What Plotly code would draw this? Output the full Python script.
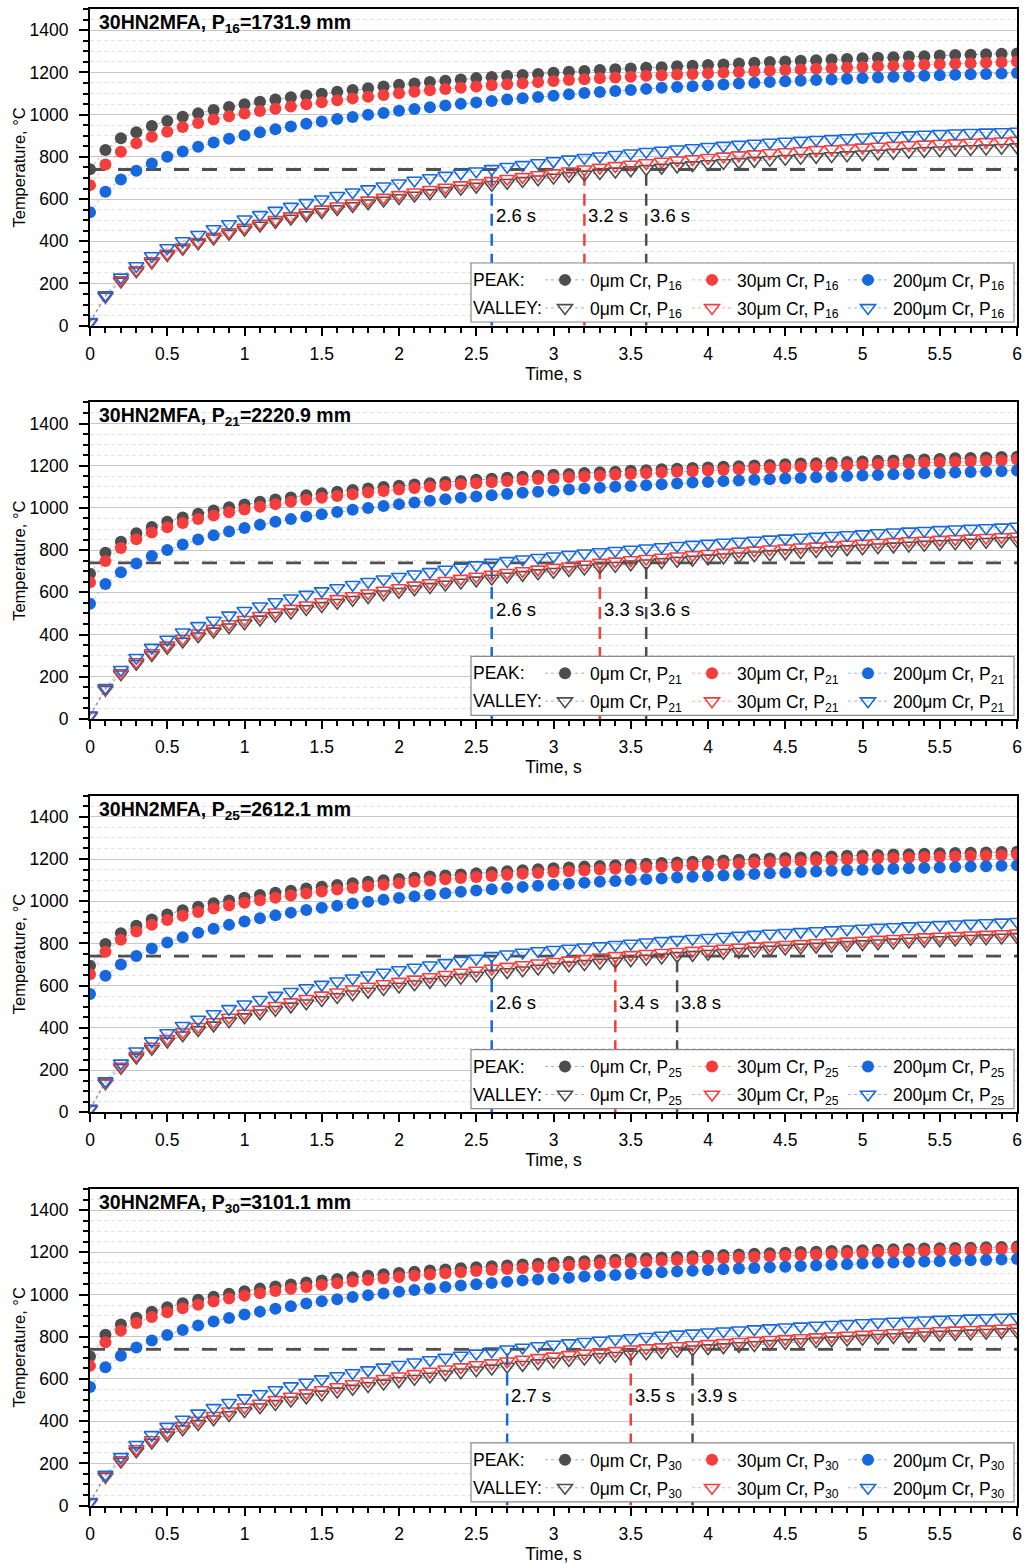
import plotly.graph_objects as go

# ---------------------------------------------------------------- data
time_s = [round(i * 0.1, 1) for i in range(61)]

# P16 = 1731.9 mm
p16_peak_0 = [741, 832, 888, 916, 946, 970, 990, 1006, 1022, 1036, 1049,
              1061, 1072, 1082, 1091, 1099, 1108, 1117, 1125, 1133, 1141,
              1148, 1155, 1161, 1167, 1173, 1178, 1183, 1188, 1193, 1198,
              1203, 1207, 1211, 1215, 1219, 1222, 1225, 1229, 1232, 1235,
              1238, 1242, 1246, 1249, 1252, 1255, 1258, 1261, 1264, 1267,
              1270, 1272, 1275, 1277, 1280, 1282, 1284, 1286, 1288, 1290]
p16_peak_30 = [666, 764, 824, 864, 895, 919, 941, 960, 977, 992, 1005,
               1017, 1028, 1039, 1049, 1059, 1068, 1077, 1085, 1093, 1101,
               1108, 1115, 1121, 1127, 1133, 1139, 1144, 1149, 1154, 1159,
               1164, 1168, 1172, 1176, 1180, 1184, 1187, 1190, 1193, 1196,
               1199, 1202, 1205, 1208, 1211, 1214, 1217, 1220, 1223, 1226,
               1229, 1231, 1234, 1236, 1239, 1241, 1243, 1246, 1248, 1252]
p16_peak_200 = [537, 635, 693, 734, 769, 800, 825, 848, 868, 886, 902,
                917, 931, 944, 957, 968, 979, 989, 999, 1008, 1018,
                1027, 1035, 1043, 1051, 1058, 1065, 1072, 1078, 1084, 1090,
                1096, 1102, 1107, 1112, 1117, 1122, 1127, 1131, 1135, 1139,
                1143, 1147, 1151, 1155, 1158, 1161, 1164, 1167, 1170, 1173,
                1176, 1179, 1181, 1184, 1186, 1189, 1191, 1193, 1195, 1197]
p16_valley_0 = [14, 138, 210, 258, 300, 335, 365, 391, 414, 436, 456,
                475, 492, 508, 524, 539, 553, 567, 580, 593, 605,
                617, 628, 639, 649, 659, 668, 677, 686, 694, 702,
                710, 717, 724, 731, 737, 743, 749, 755, 761, 766,
                771, 776, 781, 786, 791, 796, 800, 804, 808, 812,
                816, 820, 824, 828, 831, 834, 837, 840, 843, 846]
p16_valley_30 = [16, 142, 216, 264, 306, 342, 372, 398, 422, 444, 465,
                 484, 502, 519, 536, 551, 566, 580, 594, 607, 620,
                 632, 644, 655, 666, 676, 686, 696, 705, 714, 723,
                 732, 741, 749, 757, 764, 771, 778, 784, 790, 796,
                 802, 808, 813, 818, 823, 828, 833, 837, 841, 845,
                 849, 853, 856, 859, 862, 865, 868, 871, 874, 877]
p16_valley_200 = [18, 145, 229, 283, 330, 368, 401, 431, 458, 482, 504,
                  525, 545, 564, 582, 599, 616, 632, 647, 661, 675,
                  688, 700, 711, 722, 732, 743, 753, 762, 771, 780,
                  788, 796, 803, 810, 817, 824, 830, 836, 842, 848,
                  853, 858, 863, 868, 873, 877, 881, 885, 889, 893,
                  897, 900, 903, 906, 909, 912, 914, 916, 918, 920]

# P21 = 2220.9 mm
p21_peak_0 = [688, 788, 840, 880, 910, 934, 955, 972, 988, 1003, 1016,
              1029, 1040, 1050, 1060, 1069, 1077, 1085, 1092, 1099, 1105,
              1111, 1117, 1123, 1128, 1133, 1138, 1143, 1148, 1152, 1157,
              1161, 1165, 1169, 1172, 1176, 1179, 1183, 1186, 1189, 1192,
              1195, 1198, 1201, 1204, 1207, 1210, 1212, 1215, 1218, 1220,
              1223, 1225, 1228, 1230, 1232, 1235, 1237, 1239, 1241, 1243]
p21_peak_30 = [648, 748, 810, 852, 884, 908, 929, 948, 964, 979, 993,
               1006, 1018, 1029, 1039, 1048, 1057, 1065, 1073, 1080, 1087,
               1094, 1100, 1106, 1112, 1117, 1122, 1127, 1132, 1137, 1141,
               1145, 1149, 1153, 1157, 1161, 1164, 1168, 1171, 1174, 1177,
               1180, 1183, 1186, 1189, 1192, 1195, 1197, 1200, 1202, 1205,
               1207, 1209, 1212, 1214, 1216, 1218, 1220, 1222, 1225, 1229]
p21_peak_200 = [546, 640, 695, 737, 772, 801, 827, 850, 870, 888, 905,
                920, 934, 947, 959, 970, 981, 991, 1000, 1009, 1018,
                1026, 1034, 1041, 1048, 1054, 1060, 1066, 1072, 1077, 1082,
                1087, 1092, 1096, 1100, 1104, 1108, 1112, 1116, 1120, 1123,
                1127, 1130, 1133, 1136, 1139, 1142, 1145, 1148, 1151, 1154,
                1156, 1159, 1161, 1164, 1166, 1168, 1170, 1172, 1174, 1177]
p21_valley_0 = [14, 139, 212, 262, 303, 338, 367, 392, 415, 435, 454,
                472, 489, 505, 521, 536, 551, 565, 578, 591, 603,
                615, 626, 637, 647, 657, 666, 675, 683, 691, 698,
                706, 713, 720, 726, 733, 738, 744, 750, 755, 761,
                766, 771, 776, 781, 786, 791, 796, 800, 805, 809,
                814, 818, 822, 826, 829, 833, 836, 840, 843, 846]
p21_valley_30 = [16, 143, 218, 270, 313, 349, 380, 406, 429, 450, 470,
                 489, 506, 523, 539, 554, 569, 583, 596, 609, 621,
                 633, 644, 655, 665, 675, 684, 693, 701, 709, 717,
                 724, 732, 741, 747, 753, 759, 765, 771, 777, 783,
                 789, 794, 799, 804, 809, 814, 818, 823, 827, 831,
                 835, 839, 843, 846, 850, 853, 856, 859, 862, 865]
p21_valley_200 = [18, 148, 233, 290, 338, 377, 411, 441, 467, 491, 513,
                  534, 554, 572, 590, 606, 621, 636, 650, 662, 674,
                  686, 697, 708, 718, 729, 741, 749, 757, 764, 771,
                  778, 785, 791, 797, 803, 809, 815, 821, 826, 831,
                  836, 841, 846, 851, 856, 860, 864, 868, 872, 876,
                  881, 885, 889, 892, 896, 899, 902, 905, 908, 912]

# P25 = 2612.1 mm
p25_peak_0 = [694, 797, 848, 884, 913, 937, 957, 974, 990, 1004, 1017,
              1029, 1040, 1050, 1060, 1069, 1077, 1085, 1092, 1099, 1105,
              1111, 1117, 1122, 1127, 1132, 1137, 1142, 1147, 1151, 1156,
              1160, 1164, 1167, 1171, 1174, 1178, 1181, 1184, 1187, 1190,
              1193, 1196, 1199, 1202, 1205, 1207, 1210, 1212, 1215, 1217,
              1219, 1221, 1223, 1225, 1227, 1228, 1230, 1231, 1233, 1234]
p25_peak_30 = [654, 761, 818, 857, 888, 911, 931, 949, 965, 980, 993,
               1005, 1017, 1027, 1037, 1046, 1055, 1063, 1071, 1078, 1085,
               1092, 1098, 1104, 1110, 1115, 1120, 1125, 1130, 1134, 1138,
               1142, 1146, 1150, 1154, 1157, 1161, 1164, 1167, 1170, 1173,
               1176, 1179, 1182, 1185, 1188, 1190, 1193, 1195, 1198, 1200,
               1202, 1204, 1206, 1208, 1210, 1212, 1214, 1216, 1218, 1221]
p25_peak_200 = [560, 647, 700, 741, 776, 804, 829, 851, 870, 888, 904,
                919, 933, 946, 958, 969, 979, 989, 998, 1007, 1015,
                1023, 1031, 1038, 1045, 1051, 1057, 1063, 1068, 1073, 1078,
                1083, 1088, 1092, 1096, 1100, 1104, 1108, 1112, 1116, 1119,
                1122, 1126, 1129, 1132, 1135, 1138, 1141, 1144, 1147, 1149,
                1152, 1154, 1156, 1158, 1160, 1162, 1164, 1166, 1168, 1170]
p25_valley_0 = [14, 138, 211, 260, 301, 336, 365, 390, 412, 432, 451,
                469, 486, 502, 517, 532, 546, 559, 572, 584, 596,
                607, 618, 628, 638, 648, 657, 665, 673, 681, 689,
                696, 703, 709, 715, 721, 728, 734, 741, 746, 751,
                756, 761, 766, 771, 776, 781, 785, 789, 793, 797,
                801, 805, 809, 813, 816, 819, 822, 825, 828, 831]
p25_valley_30 = [16, 143, 217, 269, 312, 348, 379, 405, 428, 449, 468,
                 487, 505, 522, 538, 554, 569, 583, 596, 608, 619,
                 630, 641, 652, 662, 672, 681, 690, 698, 706, 713,
                 720, 727, 734, 741, 746, 751, 756, 761, 766, 771,
                 776, 781, 786, 790, 794, 798, 802, 806, 810, 814,
                 818, 822, 826, 830, 833, 836, 839, 842, 845, 848]
p25_valley_200 = [18, 148, 232, 289, 337, 376, 410, 440, 466, 490, 512,
                  533, 553, 571, 589, 605, 621, 635, 649, 662, 674,
                  686, 697, 708, 718, 728, 741, 749, 757, 764, 770,
                  776, 782, 788, 794, 800, 806, 812, 817, 822, 827,
                  832, 837, 842, 847, 851, 855, 859, 863, 867, 871,
                  875, 878, 882, 885, 888, 891, 894, 897, 900, 903]

# P30 = 3101.1 mm
p30_peak_0 = [706, 809, 858, 890, 918, 940, 959, 975, 990, 1004, 1016,
              1028, 1038, 1048, 1057, 1066, 1074, 1082, 1089, 1096, 1102,
              1108, 1114, 1119, 1124, 1129, 1134, 1138, 1142, 1146, 1151,
              1155, 1158, 1162, 1165, 1169, 1172, 1175, 1178, 1181, 1184,
              1187, 1190, 1193, 1196, 1198, 1201, 1203, 1206, 1208, 1210,
              1212, 1214, 1216, 1218, 1219, 1221, 1222, 1224, 1225, 1227]
p30_peak_30 = [662, 774, 829, 865, 894, 916, 935, 952, 967, 981, 994,
               1006, 1017, 1027, 1036, 1045, 1054, 1062, 1069, 1076, 1083,
               1089, 1095, 1101, 1106, 1111, 1116, 1121, 1126, 1130, 1134,
               1138, 1142, 1146, 1150, 1153, 1157, 1160, 1163, 1166, 1169,
               1172, 1175, 1178, 1181, 1184, 1187, 1189, 1192, 1194, 1197,
               1199, 1201, 1203, 1205, 1207, 1209, 1211, 1213, 1215, 1218]
p30_peak_200 = [562, 655, 710, 749, 782, 808, 832, 853, 872, 889, 905,
                919, 933, 945, 957, 968, 978, 988, 997, 1005, 1013,
                1021, 1029, 1036, 1043, 1049, 1055, 1061, 1066, 1071, 1075,
                1080, 1085, 1089, 1093, 1097, 1101, 1105, 1109, 1113, 1116,
                1120, 1123, 1126, 1129, 1132, 1135, 1138, 1141, 1144, 1147,
                1150, 1152, 1154, 1156, 1158, 1160, 1162, 1164, 1166, 1168]
p30_valley_0 = [14, 137, 209, 258, 299, 333, 362, 387, 409, 429, 448,
                466, 482, 498, 513, 527, 541, 554, 567, 579, 590,
                601, 612, 622, 632, 641, 650, 659, 667, 675, 683,
                690, 697, 704, 710, 716, 722, 728, 734, 741, 746,
                751, 756, 761, 766, 771, 775, 779, 783, 787, 791,
                795, 799, 803, 807, 810, 813, 816, 819, 822, 825]
p30_valley_30 = [16, 142, 216, 268, 311, 347, 377, 403, 426, 447, 466,
                 484, 501, 517, 533, 548, 562, 576, 589, 601, 613,
                 624, 635, 646, 656, 666, 675, 684, 692, 700, 707,
                 714, 721, 727, 733, 741, 746, 751, 756, 761, 766,
                 771, 776, 781, 786, 790, 794, 798, 802, 806, 810,
                 814, 818, 821, 824, 827, 830, 833, 836, 839, 842]
p30_valley_200 = [18, 147, 231, 288, 335, 374, 408, 437, 463, 487, 509,
                  529, 548, 566, 583, 599, 614, 628, 642, 655, 667,
                  679, 690, 701, 711, 721, 731, 741, 749, 756, 763,
                  770, 776, 782, 788, 794, 800, 806, 811, 816, 821,
                  826, 831, 836, 841, 845, 849, 853, 857, 861, 865,
                  869, 872, 875, 878, 881, 884, 887, 889, 891, 893]

point_index = ["16", "21", "25", "30"]
point_position_mm = ["1731.9", "2220.9", "2612.1", "3101.1"]
coating = ["0", "30", "200"]

# time at which each valley curve reaches the threshold (0, 30, 200 µm Cr)
cross_time_s = [[3.6, 3.2, 2.6],
                [3.6, 3.3, 2.6],
                [3.8, 3.4, 2.6],
                [3.9, 3.5, 2.7]]
threshold_c = 740

peaks = [[p16_peak_0, p16_peak_30, p16_peak_200],
         [p21_peak_0, p21_peak_30, p21_peak_200],
         [p25_peak_0, p25_peak_30, p25_peak_200],
         [p30_peak_0, p30_peak_30, p30_peak_200]]
valleys = [[p16_valley_0, p16_valley_30, p16_valley_200],
           [p21_valley_0, p21_valley_30, p21_valley_200],
           [p25_valley_0, p25_valley_30, p25_valley_200],
           [p30_valley_0, p30_valley_30, p30_valley_200]]

# ---------------------------------------------------------------- style
W, H = 1033, 1564
X_LEFT, X_RIGHT = 90, 1017
PLOT_H = 316.6
BOTTOMS = [325.7, 719.0, 1112.3, 1505.6]
FONT = "Liberation Sans, Arial, sans-serif"

MARK = ["#4d4d4d", "#f43d3d", "#1767dd"]
LINK = ["rgba(77,77,77,0.45)", "rgba(244,61,61,0.45)", "rgba(23,103,221,0.45)"]

# legend key positions (px): marker centres of the three columns,
# row centres measured up from the panel bottom
LEG_COL_X = [565, 712, 868]
LEG_ROW_UP = [45.7, 17.7]   # PEAK row, VALLEY row

fig = go.Figure()
shapes, annotations = [], []
layout = dict(
    width=W, height=H,
    margin=dict(l=0, r=0, t=0, b=0, autoexpand=False),
    paper_bgcolor="white", plot_bgcolor="white",
    font=dict(family=FONT, size=17, color="black"),
    showlegend=True,
)

legend_no = 0


def next_legend(x_px, y_px):
    """Create a one-entry legend whose key marker sits at (x_px, y_px)."""
    global legend_no
    legend_no += 1
    name = "legend" if legend_no == 1 else f"legend{legend_no}"
    layout[name] = dict(
        x=(x_px - 25) / W, y=1 - y_px / H, xanchor="left", yanchor="middle",
        bgcolor="rgba(0,0,0,0)", borderwidth=0, itemwidth=40,
        font=dict(size=17.5, color="black"))
    return name


for k in range(4):
    sfx = "" if k == 0 else str(k + 1)
    xa, ya = "x" + sfx, "y" + sfx
    sub = point_index[k]
    b = BOTTOMS[k]

    layout["xaxis" + sfx] = dict(
        domain=[X_LEFT / W, X_RIGHT / W], anchor=ya, range=[0, 6],
        tick0=0, dtick=0.5, ticks="outside", ticklen=8, tickwidth=2,
        tickcolor="black", showline=True, linecolor="black", linewidth=2,
        mirror=True, showgrid=False, zeroline=False,
        tickfont=dict(size=17.5), ticklabelstandoff=3,
        minor=dict(dtick=0.1, ticks="outside", ticklen=5, tickwidth=1.5,
                   tickcolor="black", showgrid=False),
        title=dict(text="Time, s", font=dict(size=17.5), standoff=4),
    )
    layout["yaxis" + sfx] = dict(
        domain=[1 - b / H, 1 - (b - PLOT_H) / H], anchor=xa,
        range=[0, 1500], tick0=0, dtick=200, ticks="outside", ticklen=9,
        tickwidth=2, tickcolor="black", showline=True, linecolor="black",
        linewidth=2, mirror=True, zeroline=False,
        showgrid=True, gridcolor="#c6c6c6", gridwidth=1.3,
        tickfont=dict(size=17.5), ticklabelstandoff=7,
        minor=dict(dtick=50, ticks="outside", ticklen=5, tickwidth=1.5,
                   tickcolor="black", showgrid=True, gridcolor="#e0e0e0",
                   gridwidth=1, griddash="4px,3px"),
        title=dict(text="Temperature, °C", font=dict(size=16.5), standoff=0),
    )

    # threshold line
    fig.add_trace(go.Scatter(
        x=[0, 6], y=[threshold_c, threshold_c], xaxis=xa, yaxis=ya,
        mode="lines", line=dict(color="#505050", width=2.8, dash="15px,13px"),
        showlegend=False, hoverinfo="skip"))
    # crossing markers
    for j in range(3):
        tc = cross_time_s[k][j]
        fig.add_trace(go.Scatter(
            x=[tc, tc], y=[0, threshold_c], xaxis=xa, yaxis=ya,
            mode="lines", line=dict(color=MARK[j], width=2.5, dash="12px,8px"),
            showlegend=False, hoverinfo="skip"))
        annotations.append(dict(
            x=tc, y=520, xref=xa, yref=ya, text=f"{tc} s", showarrow=False,
            xanchor="left", yanchor="middle", xshift=2,
            font=dict(size=18.5, color="black")))

    # peak series (filled circles) and valley series (open triangles)
    for row, (series, symbol) in enumerate(((peaks[k], "circle"),
                                            (valleys[k], "triangle-down-open"))):
        for j in range(3):
            leg = next_legend(LEG_COL_X[j], b - LEG_ROW_UP[row])
            marker = dict(symbol=symbol, size=12 if row == 0 else 13,
                          color=MARK[j])
            if row == 1:
                marker["line"] = dict(width=1.6, color=MARK[j])
            fig.add_trace(go.Scatter(
                x=time_s, y=series[j], xaxis=xa, yaxis=ya, legend=leg,
                mode="lines+markers",
                name=f"{coating[j]}μm Cr, P<sub>{sub}</sub>",
                line=dict(color=LINK[j], width=1, dash="dot"),
                marker=marker))

    # legend frame and row captions
    shapes.append(dict(
        type="rect", xref="paper", yref="paper", layer="above",
        x0=471 / W, x1=1014 / W,
        y0=1 - (b - 3.7) / H, y1=1 - (b - 62.7) / H,
        fillcolor="white", line=dict(color="#8a8a8a", width=1.2)))
    for txt, up in zip(("PEAK:", "VALLEY:"), LEG_ROW_UP):
        annotations.append(dict(
            x=471 / W, y=1 - (b - up) / H, xref="paper", yref="paper",
            text=txt, showarrow=False, xanchor="left", yanchor="middle",
            font=dict(size=17.5, color="black")))

    # panel title
    annotations.append(dict(
        x=0.008, y=1, xref=xa + " domain", yref=ya + " domain",
        xanchor="left", yanchor="top", showarrow=False,
        text=f"<b>30HN2MFA, P<sub>{sub}</sub>={point_position_mm[k]} mm</b>",
        font=dict(size=19.5, color="black")))

layout["shapes"] = shapes
layout["annotations"] = annotations
fig.update_layout(**layout)
fig.write_html("out.html")
